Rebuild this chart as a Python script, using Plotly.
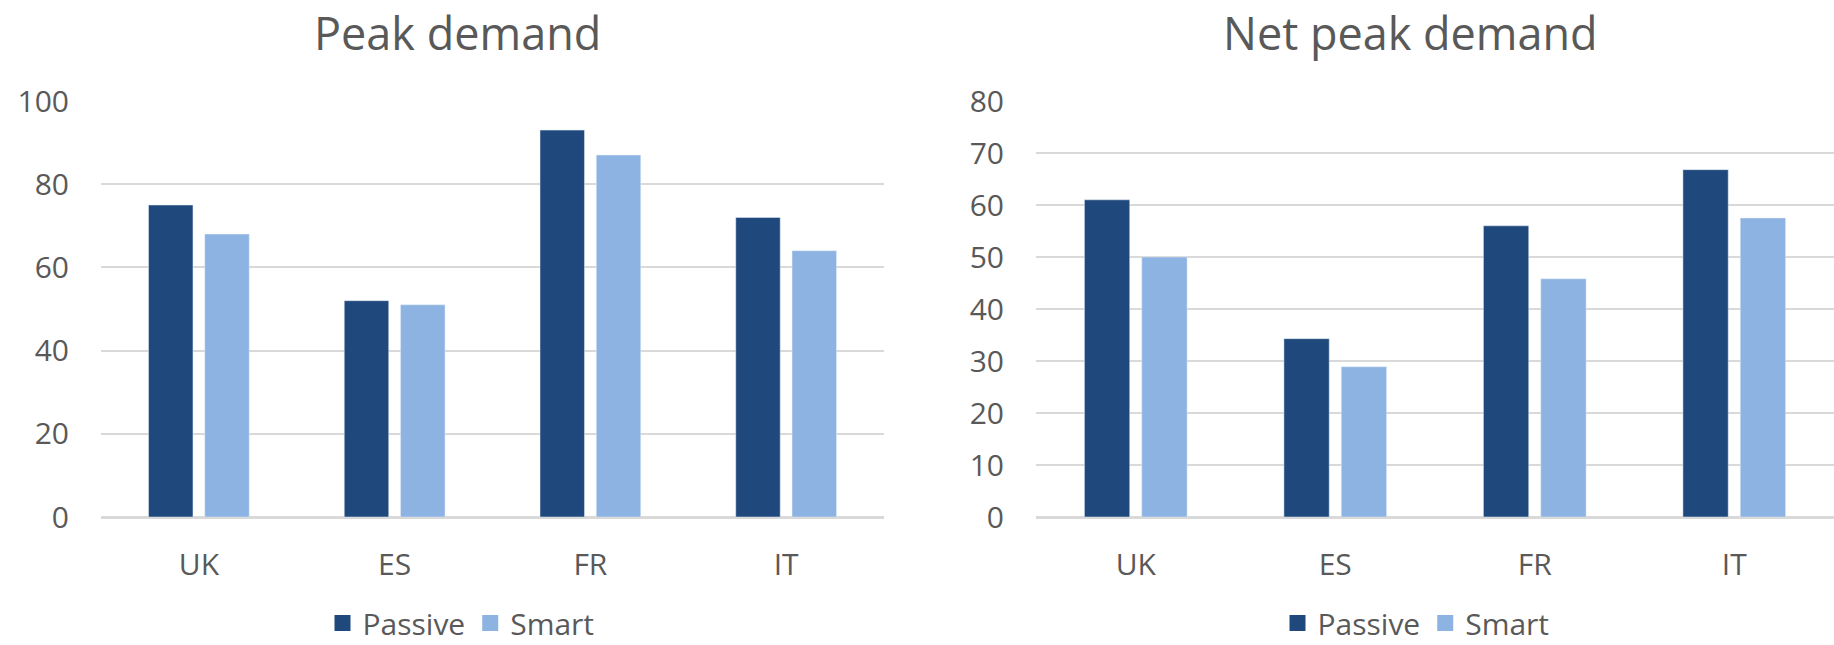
import plotly.graph_objects as go

categories = ["UK", "ES", "FR", "IT"]
series_names = ["Passive", "Smart"]
peak_passive = [75, 52, 93, 72]
peak_smart = [68, 51, 87, 64]
net_passive = [61, 34.3, 56, 66.8]
net_smart = [50, 28.9, 45.8, 57.5]

C_PASSIVE = "#1F497D"
C_SMART = "#8DB3E2"
TXT = "#595959"
GRID = "#D9D9D9"
FONT = "Open Sans"

W, H = 1834, 645

fig = go.Figure()
fig.add_trace(go.Bar(x=categories, y=peak_passive, name=series_names[0], marker_color=C_PASSIVE,
                     xaxis="x", yaxis="y", showlegend=False))
fig.add_trace(go.Bar(x=categories, y=peak_smart, name=series_names[1], marker_color=C_SMART,
                     xaxis="x", yaxis="y", showlegend=False))
fig.add_trace(go.Bar(x=categories, y=net_passive, name=series_names[0], marker_color=C_PASSIVE,
                     xaxis="x2", yaxis="y2", showlegend=False))
fig.add_trace(go.Bar(x=categories, y=net_smart, name=series_names[1], marker_color=C_SMART,
                     xaxis="x2", yaxis="y2", showlegend=False))

# legend entries (larger square swatches)
for leg, xa, ya in (("legend", "x", "y"), ("legend2", "x2", "y2")):
    for nm, col in zip(series_names, (C_PASSIVE, C_SMART)):
        fig.add_trace(go.Scatter(x=[None], y=[None], mode="markers", name=nm,
                                 marker=dict(symbol="square", size=16, color=col),
                                 xaxis=xa, yaxis=ya, legend=leg, showlegend=True))

ydom = [(H - 517) / H, (H - 101) / H]

xcommon = dict(type="category", showgrid=False, showline=False, zeroline=False, ticks="",
               tickfont=dict(family=FONT, size=30, color=TXT), ticklabelstandoff=27)
ycommon = dict(showgrid=True, gridcolor=GRID, gridwidth=2, zeroline=True, zerolinecolor=GRID,
               zerolinewidth=3, showline=False, ticks="",
               tickfont=dict(family=FONT, size=30, color=TXT), ticklabelstandoff=31)

legcommon = dict(orientation="h", xanchor="center", yanchor="middle", y=(H - 623) / H,
                 font=dict(family=FONT, size=30, color=TXT), bgcolor="rgba(0,0,0,0)",
                 traceorder="normal", itemclick=False, itemdoubleclick=False)

fig.update_layout(
    width=W, height=H,
    margin=dict(l=0, r=0, t=0, b=0, autoexpand=False),
    paper_bgcolor="white", plot_bgcolor="white",
    barmode="group", bargap=0.425, bargroupgap=0.21,
    font=dict(family=FONT, color=TXT),
    xaxis=dict(domain=[101 / W, 884 / W], anchor="y", **xcommon),
    yaxis=dict(domain=ydom, range=[0, 100], dtick=20, anchor="x", **ycommon),
    xaxis2=dict(domain=[1036 / W, 1.0], anchor="y2", **xcommon),
    yaxis2=dict(domain=ydom, range=[0, 80], dtick=10, anchor="x2", **ycommon),
    legend=dict(x=461 / W, **legcommon),
    legend2=dict(x=1416 / W, **legcommon),
    annotations=[
        dict(text="Peak demand", x=457 / W, y=1.0, xref="paper", yref="paper",
             xanchor="center", yanchor="top", showarrow=False,
             font=dict(family=FONT, size=45, color=TXT)),
        dict(text="Net peak demand", x=1410 / W, y=1.0, xref="paper", yref="paper",
             xanchor="center", yanchor="top", showarrow=False,
             font=dict(family=FONT, size=45, color=TXT)),
    ],
    hovermode=False,
)

fig.write_html("out.html")
